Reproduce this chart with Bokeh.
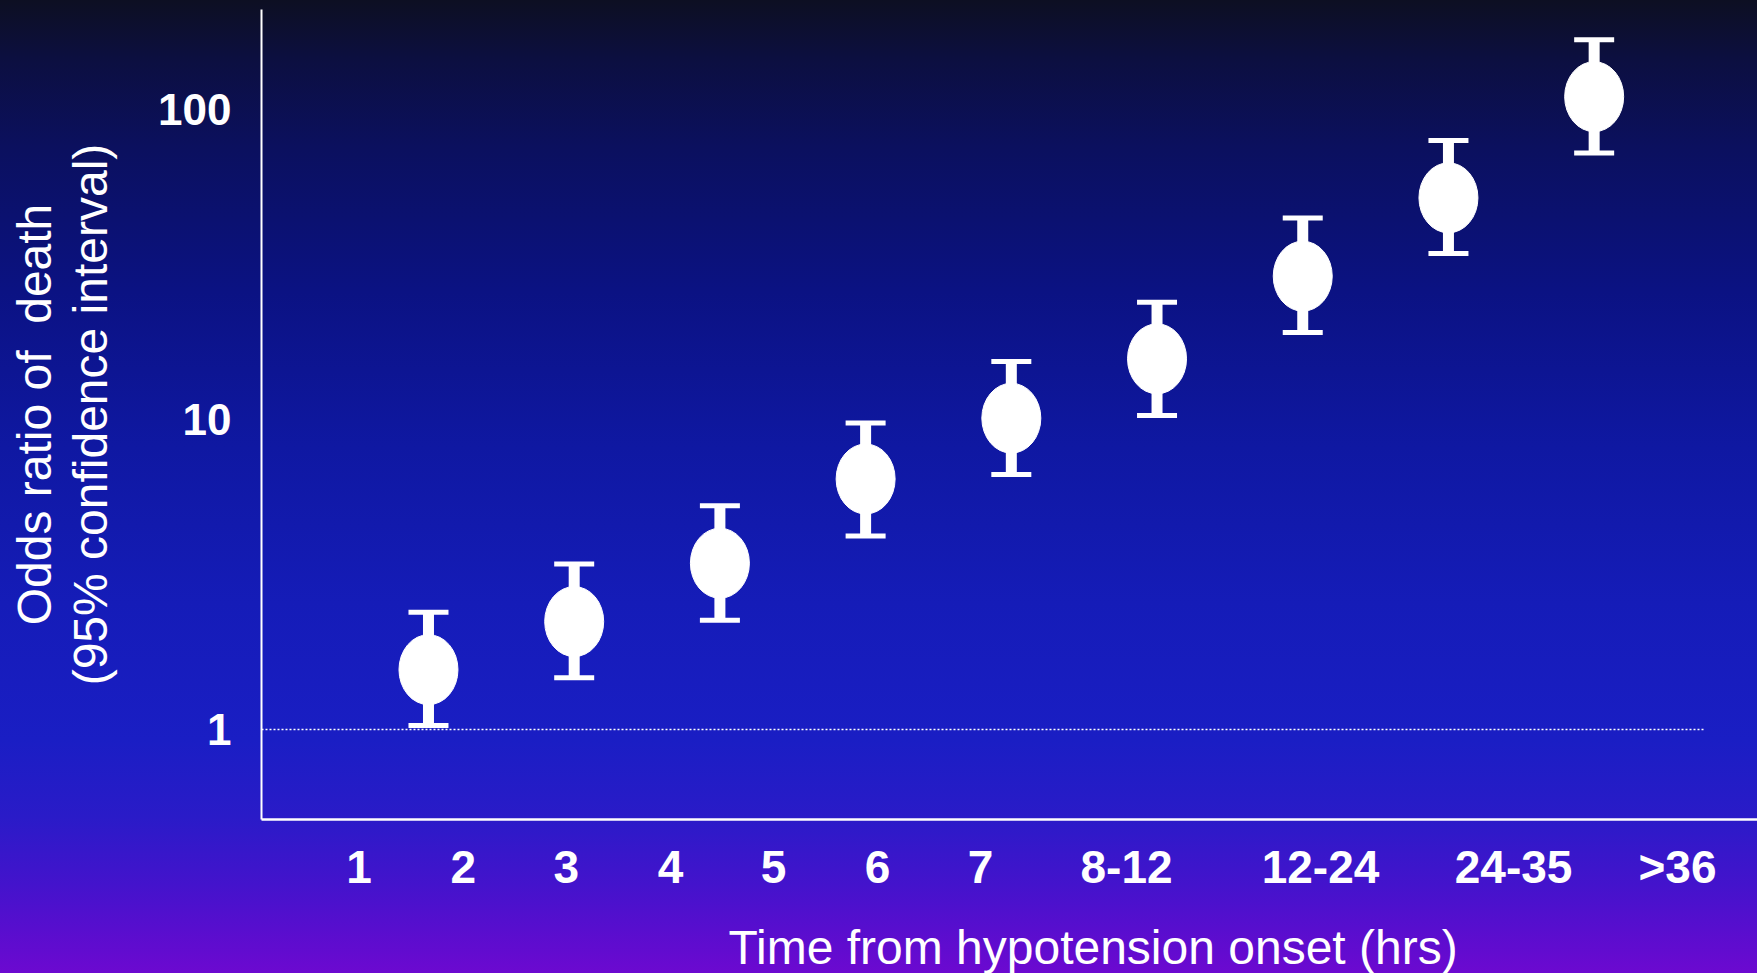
from bokeh.plotting import figure
from bokeh.models import FixedTicker, Title, BasicTickFormatter
from bokeh.embed import file_html
from bokeh.resources import INLINE

# ---- data ----
group_index = [1, 2, 3, 4, 5, 6, 7, 8, 9]
odds_ratio = [1.56, 2.23, 3.44, 6.43, 10.1, 15.7, 29.0, 51.9, 110.0]
ci_low = [1.03, 1.47, 2.25, 4.21, 6.65, 10.3, 19.1, 34.3, 72.4]
ci_high = [2.39, 3.42, 5.27, 9.75, 15.4, 23.9, 44.7, 79.4, 168.0]
x_tick_labels = ["1", "2", "3", "4", "5", "6", "7", "8-12", "12-24", "24-35", ">36"]
y_tick_values = [1, 10, 100]
reference_or = 1

# ---- layout positions of the x tick labels (in the x data units) ----
x_tick_pos = [0.524, 1.239, 1.946, 2.661, 3.368, 4.082, 4.789, 5.791, 7.122, 8.447, 9.572]

FONT = "Liberation Sans"
W, H = 1757, 973
X0, X1 = -0.146, 10.121
Y0, Y1 = 0.5127, 210.2

p = figure(width=W, height=H, output_backend="svg", toolbar_location=None,
           y_axis_type="log", x_range=(X0, X1), y_range=(Y0, Y1),
           min_border_left=261, min_border_right=0, min_border_top=9, min_border_bottom=154)

p.styles = {"background-image": "linear-gradient(to bottom, #0d0f22 0%, #0c0f40 6%, #0b105e 15%, "
                                "#0b1283 30%, #0f18a2 46%, #151cb8 62%, #1a1ec4 76%, #2a1bc8 84%, "
                                "#4413cc 91%, #6c09d0 100%)"}
p.background_fill_alpha = 0
p.border_fill_alpha = 0
p.outline_line_color = None
p.grid.visible = False

# reference line at OR = 1
p.segment(x0=[X0], y0=[reference_or], x1=[9.751], y1=[reference_or],
          line_color="white", line_width=1.6, line_dash="2 2")

# error bars
p.segment(x0=group_index, y0=ci_low, x1=group_index, y1=ci_high, line_color="white", line_width=11)
p.scatter(group_index, ci_high, marker="dash", size=40, line_width=5, line_color="white")
p.scatter(group_index, ci_low, marker="dash", size=40, line_width=5, line_color="white")
# point estimates
p.ellipse(x=group_index, y=odds_ratio, width=59, height=70, width_units="screen",
          height_units="screen", fill_color="white", line_color="white")

# axes
for ax in (p.xaxis[0], p.yaxis[0]):
    ax.axis_line_color = "white"
    ax.axis_line_width = 2
    ax.major_tick_line_color = None
    ax.minor_tick_line_color = None
    ax.major_label_text_color = "white"
    ax.major_label_text_font = FONT
    ax.major_label_text_font_style = "bold"

p.xaxis.ticker = FixedTicker(ticks=x_tick_pos)
p.xaxis.major_label_overrides = {pos: lab for pos, lab in zip(x_tick_pos, x_tick_labels)}
p.xaxis.major_label_text_font_size = "46px"
p.xaxis.major_label_standoff = 15
p.xaxis.axis_line_width = 2.5
# a tiny blank axis label only reserves space, so that the title sits at the slide's bottom edge
p.xaxis.axis_label = "\u00a0"
p.xaxis.axis_label_text_font_size = "8px"
p.xaxis.axis_label_standoff = 11

p.yaxis.ticker = FixedTicker(ticks=y_tick_values)
p.yaxis.formatter = BasicTickFormatter()
p.yaxis.major_label_text_font_size = "44px"
p.yaxis.major_label_standoff = 24
p.yaxis.axis_label = "Odds ratio of \u00a0death\n(95% confidence interval)"
p.yaxis.axis_label_text_font = FONT
p.yaxis.axis_label_text_font_style = "normal"
p.yaxis.axis_label_text_font_size = "48px"
p.yaxis.axis_label_text_color = "white"
p.yaxis.axis_label_text_line_height = 1.06
p.yaxis.axis_label_standoff = 38

xtitle = Title(text="Time from hypotension onset (hrs)", align="left", offset=467,
               text_font=FONT, text_font_size="48px", text_font_style="normal",
               text_color="white", standoff=0)
p.add_layout(xtitle, "below")

open("out.html", "w").write(file_html(p, INLINE))
